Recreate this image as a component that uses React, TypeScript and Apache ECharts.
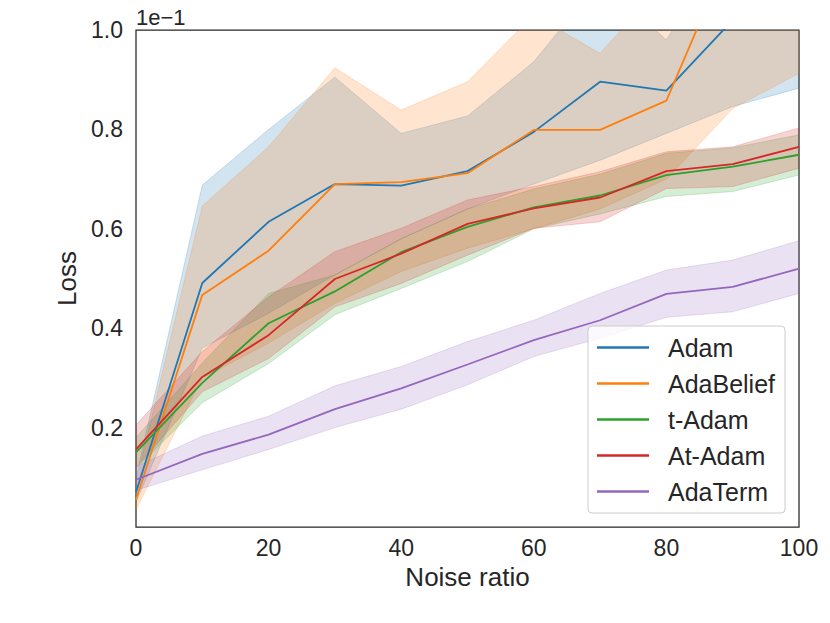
import React, { useEffect, useRef } from "react";
import * as echarts from "echarts";

const xs = [0, 10, 20, 30, 40, 50, 60, 70, 80, 90, 100];
const xTicks = [0, 20, 40, 60, 80, 100];
const yTicks = [0.2, 0.4, 0.6, 0.8, 1.0];

const methodNames = ["Adam", "AdaBelief", "t-Adam", "At-Adam", "AdaTerm"];
const methodColors = ["#1f77b4", "#ff7f0e", "#2ca02c", "#d62728", "#9467bd"];

const adamMean = [0.07, 0.491, 0.614, 0.69, 0.687, 0.716, 0.795, 0.896, 0.878, 1.02, 1.1];
const adamLow = [0.05, 0.36, 0.43, 0.507, 0.58, 0.64, 0.69, 0.738, 0.792, 0.846, 0.883];
const adamHigh = [0.1, 0.688, 0.8, 0.905, 0.792, 0.827, 0.936, 1.1, 0.98, 1.2, 1.3];

const adaBeliefMean = [0.055, 0.467, 0.556, 0.69, 0.694, 0.712, 0.799, 0.799, 0.858, 1.17, 1.22];
const adaBeliefLow = [0.035, 0.3, 0.37, 0.45, 0.514, 0.561, 0.6, 0.64, 0.7, 0.842, 0.913];
const adaBeliefHigh = [0.09, 0.646, 0.765, 0.924, 0.839, 0.896, 1.03, 0.953, 1.1, 1.2, 1.3];

const tAdamMean = [0.15, 0.29, 0.41, 0.474, 0.553, 0.604, 0.643, 0.667, 0.708, 0.725, 0.749];
const tAdamLow = [0.118, 0.25, 0.329, 0.427, 0.48, 0.534, 0.6, 0.63, 0.665, 0.675, 0.708];
const tAdamHigh = [0.18, 0.33, 0.47, 0.507, 0.58, 0.64, 0.68, 0.71, 0.752, 0.763, 0.789];

const atAdamMean = [0.156, 0.302, 0.386, 0.499, 0.55, 0.61, 0.641, 0.663, 0.716, 0.73, 0.765];
const atAdamLow = [0.12, 0.272, 0.339, 0.443, 0.49, 0.547, 0.601, 0.614, 0.681, 0.685, 0.722];
const atAdamHigh = [0.205, 0.353, 0.463, 0.554, 0.601, 0.658, 0.685, 0.715, 0.755, 0.765, 0.803];

const adaTermMean = [0.095, 0.147, 0.186, 0.237, 0.279, 0.327, 0.376, 0.416, 0.469, 0.483, 0.52];
const adaTermLow = [0.074, 0.115, 0.156, 0.2, 0.237, 0.286, 0.343, 0.38, 0.422, 0.433, 0.47];
const adaTermHigh = [0.121, 0.183, 0.223, 0.284, 0.323, 0.373, 0.416, 0.47, 0.517, 0.537, 0.576];

const means = [adamMean, adaBeliefMean, tAdamMean, atAdamMean, adaTermMean];
const lows = [adamLow, adaBeliefLow, tAdamLow, atAdamLow, adaTermLow];
const highs = [adamHigh, adaBeliefHigh, tAdamHigh, atAdamHigh, adaTermHigh];

const FONT = "'Liberation Sans', Arial, sans-serif";
const INK = "#262626";

export default function App() {
  const ref = useRef<HTMLDivElement>(null);
  useEffect(() => {
    if (!ref.current) return;
    const chart = echarts.init(ref.current, null, { renderer: "svg" });
    const series: any[] = [];
    methodNames.forEach((name, i) => {
      const color = methodColors[i];
      series.push({
        type: "custom",
        name: name + " band",
        coordinateSystem: "cartesian2d",
        silent: true,
        clip: true,
        z: 2,
        data: [[xs[0], lows[i][0]]],
        renderItem: (params: any, api: any) => {
          const upper = xs.map((x, j) => api.coord([x, highs[i][j]]));
          const lower = xs.map((x, j) => api.coord([x, lows[i][j]])).reverse();
          const cs = params.coordSys;
          return {
            type: "polygon",
            shape: { points: upper.concat(lower) },
            clipPath: {
              type: "rect",
              shape: { x: cs.x, y: cs.y, width: cs.width, height: cs.height },
            },
            style: {
              fill: color,
              stroke: color,
              lineWidth: 1,
              opacity: 0.2,
            },
          };
        },
      });
      series.push({
        type: "line",
        name,
        data: xs.map((x, j) => [x, means[i][j]]),
        symbol: "none",
        color,
        itemStyle: { color },
        lineStyle: { color, width: 1.8 },
        z: 3,
      });
    });
    chart.setOption({
      animation: false,
      backgroundColor: "#ffffff",
      textStyle: { fontFamily: FONT },
      grid: {
        left: 136,
        right: 31,
        top: 30,
        bottom: 96,
        show: true,
        borderColor: INK,
        borderWidth: 1.25,
        backgroundColor: "transparent",
        containLabel: false,
        outerBoundsMode: "none",
      },
      xAxis: {
        type: "value",
        min: xTicks[0],
        max: xTicks[xTicks.length - 1],
        interval: 20,
        name: "Noise ratio",
        nameLocation: "middle",
        nameGap: 36,
        nameTextStyle: { fontSize: 26, color: INK, fontFamily: FONT },
        axisLine: { show: false },
        axisTick: { show: false },
        splitLine: { show: false },
        axisLabel: { fontSize: 23, color: INK, margin: 9, fontFamily: FONT },
      },
      yAxis: {
        type: "value",
        min: 0,
        max: yTicks[yTicks.length - 1],
        interval: 0.2,
        name: "Loss",
        nameLocation: "middle",
        nameGap: 54,
        nameTextStyle: { fontSize: 26, color: INK, fontFamily: FONT },
        axisLine: { show: false },
        axisTick: { show: false },
        splitLine: { show: false },
        axisLabel: {
          fontSize: 23,
          color: INK,
          margin: 13,
          fontFamily: FONT,
          formatter: (v: number) => (v < 0.1 ? "" : v.toFixed(1)),
        },
      },
      legend: {
        data: methodNames,
        left: 588,
        top: 326,
        orient: "vertical",
        icon: "rect",
        itemWidth: 52,
        itemHeight: 2.5,
        itemGap: 11,
        padding: [9, 10, 9, 9],
        backgroundColor: "rgba(255,255,255,0.8)",
        borderColor: "#cccccc",
        borderWidth: 1,
        borderRadius: 4,
        selectedMode: false,
        textStyle: {
          fontSize: 25,
          color: INK,
          lineHeight: 25,
          fontFamily: FONT,
          padding: [0, 0, 0, 14],
        },
      },
      graphic: [
        {
          type: "text",
          left: 136,
          top: 6,
          style: { text: "1e\u22121", fontSize: 22, fill: INK, fontFamily: FONT },
        },
      ],
      series,
    });
    return () => chart.dispose();
  }, []);
  return (
    <div
      ref={ref}
      style={{ position: "fixed", left: 0, top: 0, width: 830, height: 623 }}
    />
  );
}
